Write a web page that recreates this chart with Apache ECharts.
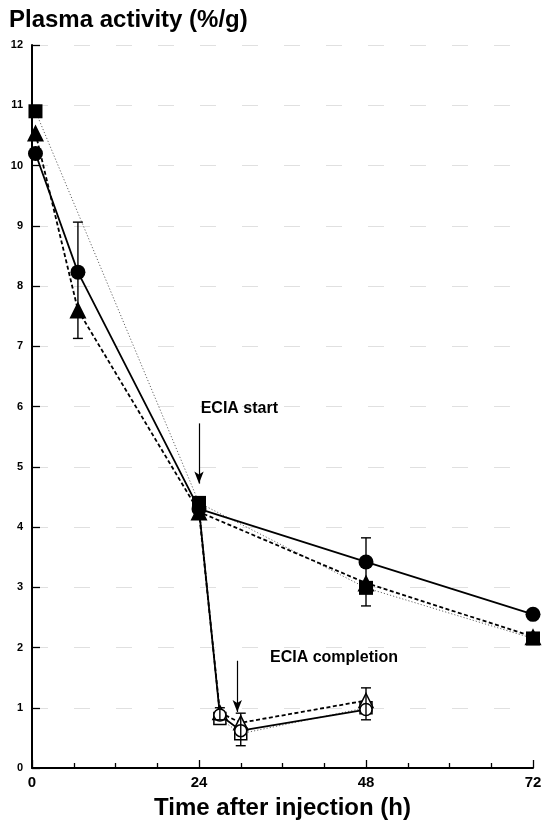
<!DOCTYPE html>
<html>
<head>
<meta charset="utf-8">
<script src="https://cdn.jsdelivr.net/npm/echarts@6/dist/echarts.min.js"></script>
<style>
  html, body { margin: 0; padding: 0; background: #fff; }
  #chart { width: 544px; height: 825px; }
</style>
</head>
<body>
<div id="chart"></div>
<script>
// Plasma activity after injection, with and without ECIA (hours vs %/g)
const hoursCtrl    = [0.5, 6.6, 24, 48, 72];
const circleCtrl   = [10.2, 8.23, 4.3, 3.42, 2.55];
const triangleCtrl = [10.54, 7.6, 4.25, 3.07, 2.18];
const hoursSquare  = [0.5, 24, 48, 72];
const squareCtrl   = [10.9, 4.4, 2.99, 2.15];

// ECIA branch, starting from the 24 h value
const hoursEcia    = [24, 27, 30, 48];
const circleEcia   = [4.3, 0.88, 0.62, 0.97];
const triangleEcia = [4.25, 0.92, 0.75, 1.12];
const squareEcia   = [4.4, 0.82, 0.57, 1.0];

// Error bars: time, low, high
const errHours = [6.6, 48, 27, 30, 48];
const errLow   = [7.13, 2.69, 0.8, 0.37, 0.8];
const errHigh  = [9.06, 3.82, 1.0, 0.91, 1.33];

const xTicks = [0, 24, 48, 72];
const yTicks = [0, 1, 2, 3, 4, 5, 6, 7, 8, 9, 10, 11, 12];

const zip = (xs, ys) => xs.map((x, i) => [x, ys[i]]);
const eciaData = (ys) => zip(hoursEcia, ys).map((p, i) =>
  i === 0 ? { value: p, symbol: 'none' } : p);

const solid  = { color: '#000', width: 1.8, type: 'solid' };
const dashed = { color: '#000', width: 1.8, type: [4, 2.5] };
const dotted = { color: '#666', width: 1, type: [1.2, 2] };
const openMarker = { color: '#fff', borderColor: '#000', borderWidth: 1.5 };
const fullMarker = { color: '#000', borderColor: '#000', borderWidth: 0 };

const chart = echarts.init(document.getElementById('chart'));
chart.setOption({
  animation: false,
  backgroundColor: '#fff',
  textStyle: { fontFamily: 'Liberation Sans, Arial, sans-serif' },
  title: {
    text: 'Plasma activity (%/g)',
    left: 4, top: 3,
    textStyle: { fontSize: 24, fontWeight: 'bold', color: '#000',
                 fontFamily: 'Liberation Sans, Arial, sans-serif' }
  },
  grid: { left: 32, right: 11, top: 45, bottom: 57, outerBoundsMode: 'none' },
  xAxis: {
    type: 'value', min: 0, max: 72, interval: 24,
    name: 'Time after injection (h)',
    nameLocation: 'middle', nameGap: 28,
    nameTextStyle: { fontSize: 24, fontWeight: 'bold', color: '#000' },
    axisLine: { show: true, onZero: false, lineStyle: { color: '#000', width: 2 } },
    axisTick: { show: true, inside: true, length: 8, lineStyle: { color: '#000', width: 1.3 } },
    minorTick: { show: true, splitNumber: 4, length: 5, lineStyle: { color: '#000', width: 1.3 } },
    axisLabel: { fontSize: 15, fontWeight: 'bold', color: '#000', margin: 7,
                 formatter: v => xTicks.includes(v) ? String(v) : '' },
    splitLine: { show: false }
  },
  yAxis: {
    type: 'value', min: 0, max: 12, interval: 1,
    axisLine: { show: true, onZero: false, lineStyle: { color: '#000', width: 2 } },
    axisTick: { show: true, inside: true, length: 8, lineStyle: { color: '#000', width: 1.3 } },
    axisLabel: { fontSize: 11, fontWeight: 'bold', color: '#000', margin: 9,
                 formatter: v => yTicks.includes(v) ? String(v) : '' },
    splitLine: { show: true, lineStyle: { color: '#e0e0e0', width: 1, type: [16, 26] } }
  },
  series: [
    // ECIA branch lines and open markers
    { type: 'line', data: eciaData(squareEcia), lineStyle: dotted,
      symbol: 'rect', symbolSize: 12, itemStyle: openMarker, z: 3 },
    { type: 'line', data: eciaData(triangleEcia), lineStyle: dashed,
      symbol: 'triangle', symbolSize: 14, itemStyle: openMarker, z: 3 },
    { type: 'line', data: eciaData(circleEcia), lineStyle: solid,
      symbol: 'circle', symbolSize: 12, itemStyle: openMarker, z: 3 },
    // Control lines and filled markers
    { type: 'line', data: zip(hoursSquare, squareCtrl), lineStyle: dotted,
      symbol: 'rect', symbolSize: 14, itemStyle: fullMarker, z: 4 },
    { type: 'line', data: zip(hoursCtrl, triangleCtrl), lineStyle: dashed,
      symbol: 'triangle', symbolSize: 17, itemStyle: fullMarker, z: 4 },
    { type: 'line', data: zip(hoursCtrl, circleCtrl), lineStyle: solid,
      symbol: 'circle', symbolSize: 15, itemStyle: fullMarker, z: 5 },
    // Error bars
    {
      type: 'custom', z: 6,
      data: errHours.map((h, i) => [h, errLow[i], errHigh[i]]),
      renderItem: (params, api) => {
        const lo = api.coord([api.value(0), api.value(1)]);
        const hi = api.coord([api.value(0), api.value(2)]);
        const w = 5;
        const style = { stroke: '#000', lineWidth: 1.4 };
        return {
          type: 'group',
          children: [
            { type: 'line', shape: { x1: lo[0], y1: lo[1], x2: hi[0], y2: hi[1] }, style },
            { type: 'line', shape: { x1: lo[0] - w, y1: lo[1], x2: lo[0] + w, y2: lo[1] }, style },
            { type: 'line', shape: { x1: hi[0] - w, y1: hi[1], x2: hi[0] + w, y2: hi[1] }, style }
          ]
        };
      }
    },
    // Annotations: arrows and their labels
    {
      type: 'scatter', data: [], z: 7,
      markLine: {
        silent: true,
        symbol: ['none', 'arrow'], symbolSize: [7, 12],
        lineStyle: { color: '#000', width: 1.2, type: 'solid' },
        label: { show: false },
        data: [
          [{ coord: [24, 5.72] }, { coord: [24, 4.72] }],
          [{ coord: [29.5, 1.78] }, { coord: [29.5, 0.93] }]
        ]
      },
      markPoint: {
        silent: true,
        symbol: 'circle', symbolSize: 0,
        label: { show: true, color: '#000', fontSize: 16, fontWeight: 'bold',
                 formatter: p => p.name },
        data: [
          { name: 'ECIA start', coord: [29.8, 5.97] },
          { name: 'ECIA completion', coord: [43.4, 1.83] }
        ]
      }
    }
  ]
});
</script>
</body>
</html>
